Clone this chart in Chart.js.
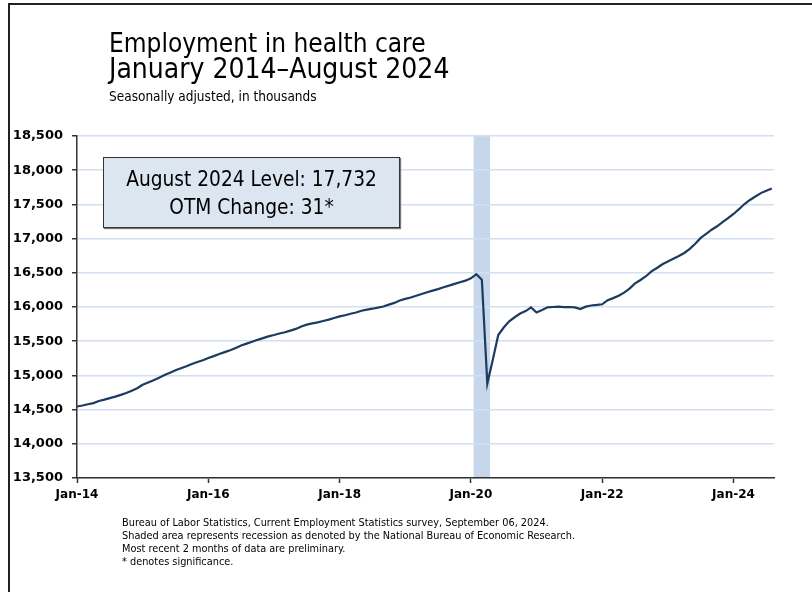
<!DOCTYPE html>
<html>
<head>
<meta charset="utf-8">
<script src="https://cdn.jsdelivr.net/npm/chart.js@4/dist/chart.umd.min.js"></script>
<style>
  body { margin: 0; background: #fff; font-family: "DejaVu Sans Condensed", "DejaVu Sans", sans-serif; }
  #wrap { position: relative; width: 812px; height: 592px; overflow: hidden; }
  #frame { position: absolute; left: 8px; top: 3px; width: 820px; height: 600px;
    border-top: 2px solid #222; border-left: 2px solid #222; }
  canvas { position: absolute; left: 0; top: 0; }
  .txt { position: absolute; white-space: nowrap; color: #000; }
  #title { left: 109px; top: 28px; font-size: 26px; line-height: 30px; }
  #subtitle { left: 109px; top: 53px; font-size: 28px; line-height: 32px; }
  #units { left: 109px; top: 88px; font-size: 13.5px; }
  #levelBox { position: absolute; left: 103px; top: 157px; width: 297px; height: 71px;
    background: #dce6f1; border: 1px solid #333; box-shadow: 1px 1px 1px #777;
    text-align: center; font-size: 20.7px; line-height: 28px; padding-top: 7px; box-sizing: border-box; }
  #notes { left: 122px; top: 516px; font-size: 10.85px; line-height: 13px; }
</style>
</head>
<body>
<div id="wrap">
  <canvas id="healthChart" width="812" height="592"></canvas>
  <div id="frame"></div>
  <div class="txt" id="title">Employment in health care</div>
  <div class="txt" id="subtitle">January 2014–August 2024</div>
  <div class="txt" id="units">Seasonally adjusted, in thousands</div>
  <div id="levelBox">August 2024 Level: 17,732<br>OTM Change: 31*</div>
  <div class="txt" id="notes">
    Bureau of Labor Statistics, Current Employment Statistics survey, September 06, 2024.<br>
    Shaded area represents recession as denoted by the National Bureau of Economic Research.<br>
    Most recent 2 months of data are preliminary.<br>
    * denotes significance.
  </div>
</div>
<script>
// Monthly employment, Jan 2014 - Aug 2024 (thousands)
const emp2014 = [14545, 14560, 14578, 14595, 14625, 14645, 14668, 14690, 14715, 14742, 14775, 14812];
const emp2015 = [14862, 14895, 14930, 14965, 15005, 15040, 15075, 15105, 15135, 15168, 15195, 15222];
const emp2016 = [15255, 15282, 15312, 15340, 15368, 15402, 15438, 15465, 15492, 15520, 15545, 15570];
const emp2017 = [15590, 15612, 15630, 15655, 15680, 15715, 15742, 15760, 15775, 15795, 15815, 15840];
const emp2018 = [15862, 15880, 15902, 15920, 15945, 15962, 15975, 15990, 16008, 16035, 16060, 16095];
const emp2019 = [16118, 16138, 16165, 16190, 16215, 16240, 16262, 16288, 16312, 16338, 16362, 16385];
const emp2020 = [16420, 16480, 16400, 14880, 15230, 15590, 15700, 15790, 15850, 15905, 15940, 15995];
const emp2021 = [15920, 15955, 15995, 16000, 16005, 15998, 16000, 15995, 15970, 16005, 16022, 16030];
const emp2022 = [16040, 16100, 16130, 16165, 16210, 16270, 16345, 16395, 16450, 16520, 16570, 16625];
const emp2023 = [16665, 16705, 16745, 16790, 16850, 16925, 17010, 17070, 17130, 17180, 17240, 17300];
const emp2024 = [17360, 17430, 17505, 17565, 17615, 17665, 17700, 17732];

const employment = [].concat(emp2014, emp2015, emp2016, emp2017, emp2018, emp2019,
  emp2020, emp2021, emp2022, emp2023, emp2024);

// x ticks: month index from Jan 2014
const xTickMonths = [0, 24, 48, 72, 96, 120];
const xTickLabels = ["Jan-14", "Jan-16", "Jan-18", "Jan-20", "Jan-22", "Jan-24"];
const yTicks = [13500, 14000, 14500, 15000, 15500, 16000, 16500, 17000, 17500, 18000, 18500];

// NBER recession: Feb 2020 - Apr 2020 (month indexes)
const recessionMonths = [73, 75];

const recessionBand = {
  id: "recessionBand",
  beforeDraw(chart) {
    const { ctx, chartArea, scales } = chart;
    const x1 = scales.x.getPixelForValue(recessionMonths[0] - 0.5);
    const x2 = scales.x.getPixelForValue(recessionMonths[1] + 0.5);
    ctx.save();
    ctx.fillStyle = "#c6d6eb";
    ctx.fillRect(x1, chartArea.top, x2 - x1, chartArea.bottom - chartArea.top);
    ctx.restore();
  },
};

const ctx = document.getElementById("healthChart").getContext("2d");
const healthChart = new Chart(ctx, {
  type: "line",
  data: {
    datasets: [
      {
        data: employment.map((v, i) => ({ x: i, y: v })),
        borderColor: "#1d3a5f",
        borderWidth: 2.2,
        pointRadius: 0,
        tension: 0,
      },
    ],
  },
  options: {
    responsive: false,
    animation: false,
    layout: { padding: { top: 136, right: 38, left: 0, bottom: 0 } },
    plugins: { legend: { display: false }, tooltip: { enabled: false } },
    scales: {
      x: {
        type: "linear",
        min: 0,
        max: 127.4,
        afterBuildTicks: (axis) => {
          axis.ticks = xTickMonths.map((v) => ({ value: v }));
        },
        afterFit: (axis) => {
          axis.height = 114;
        },
        ticks: {
          autoSkip: false,
          maxRotation: 0,
          padding: 5,
          color: "#000",
          font: { family: "DejaVu Sans", size: 12, weight: "bold" },
          callback: (v) => xTickLabels[xTickMonths.indexOf(v)],
        },
        grid: { drawOnChartArea: false, tickLength: 5, tickColor: "#333", tickWidth: 1.5 },
        border: { color: "#333", width: 1.5 },
      },
      y: {
        min: 13500,
        max: 18500,
        afterBuildTicks: (axis) => {
          axis.ticks = yTicks.map((v) => ({ value: v }));
        },
        afterFit: (axis) => {
          axis.width = 77;
        },
        ticks: {
          padding: 9,
          color: "#000",
          font: { family: "DejaVu Sans", size: 13, weight: "bold" },
          callback: (v) => v.toLocaleString("en-US"),
        },
        grid: { color: "#d3e0f1", lineWidth: 1.5, tickLength: 5, tickColor: "#333", tickWidth: 1.5 },
        border: { color: "#333", width: 1.5 },
      },
    },
  },
  plugins: [recessionBand],
});
</script>
</body>
</html>
